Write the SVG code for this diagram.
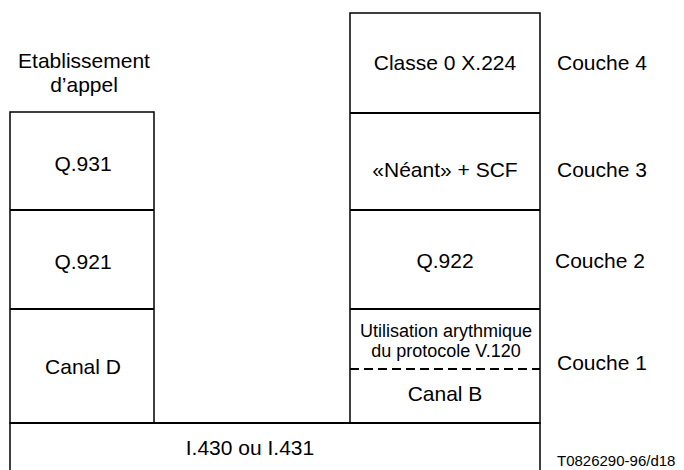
<svg xmlns="http://www.w3.org/2000/svg" width="684" height="470" viewBox="0 0 684 470">
<style>
text{font-family:"Liberation Sans",Arial,sans-serif;font-size:21px;fill:#000;text-anchor:middle}
.lbl{text-anchor:start}
.box{fill:none;stroke:#000;stroke-width:1.5}
.sep{stroke:#000;stroke-width:2}
.dash{stroke:#000;stroke-width:2;stroke-dasharray:9 5}
.small{font-size:15px;text-anchor:start}
.mid{font-size:18px}
</style>
<rect width="684" height="470" fill="#fff"/>
<g id="etablissement">
<text x="84" y="68">Etablissement</text>
<text x="84" y="92">d’appel</text>
</g>
<g id="left-stack">
<rect class="box" x="10" y="112" width="144" height="311"/>
<line class="sep" x1="10" y1="210" x2="154" y2="210"/>
<line class="sep" x1="10" y1="309" x2="154" y2="309"/>
</g>
<g id="q931"><text x="83" y="171">Q.931</text></g>
<g id="q921"><text x="83" y="269">Q.921</text></g>
<g id="canald"><text x="83" y="374">Canal D</text></g>
<g id="right-stack">
<rect class="box" x="350" y="13" width="190" height="410"/>
<line class="sep" x1="350" y1="113" x2="540" y2="113"/>
<line class="sep" x1="350" y1="210" x2="540" y2="210"/>
<line class="sep" x1="350" y1="309" x2="540" y2="309"/>
<line class="dash" x1="350" y1="369" x2="540" y2="369"/>
</g>
<g id="x224"><text x="445" y="70">Classe 0 X.224</text></g>
<g id="neant"><text x="445" y="177">«Néant» + SCF</text></g>
<g id="q922"><text x="445" y="268">Q.922</text></g>
<g id="v120"><text class="mid" x="446" y="337">Utilisation arythmique</text>
<text class="mid" x="446" y="357">du protocole V.120</text></g>
<g id="canalb"><text x="445" y="401">Canal B</text></g>
<g id="physical">
<rect class="box" x="10" y="423" width="530" height="60"/>
<line class="sep" x1="10" y1="423" x2="540" y2="423"/>
<text x="250" y="455">I.430 ou I.431</text>
</g>
<g id="couches">
<text class="lbl" x="557" y="70">Couche 4</text>
<text class="lbl" x="557" y="177">Couche 3</text>
<text class="lbl" x="555" y="268">Couche 2</text>
<text class="lbl" x="557" y="370">Couche 1</text>
</g>
<text class="small" x="557" y="466">T0826290-96/d18</text>
</svg>
